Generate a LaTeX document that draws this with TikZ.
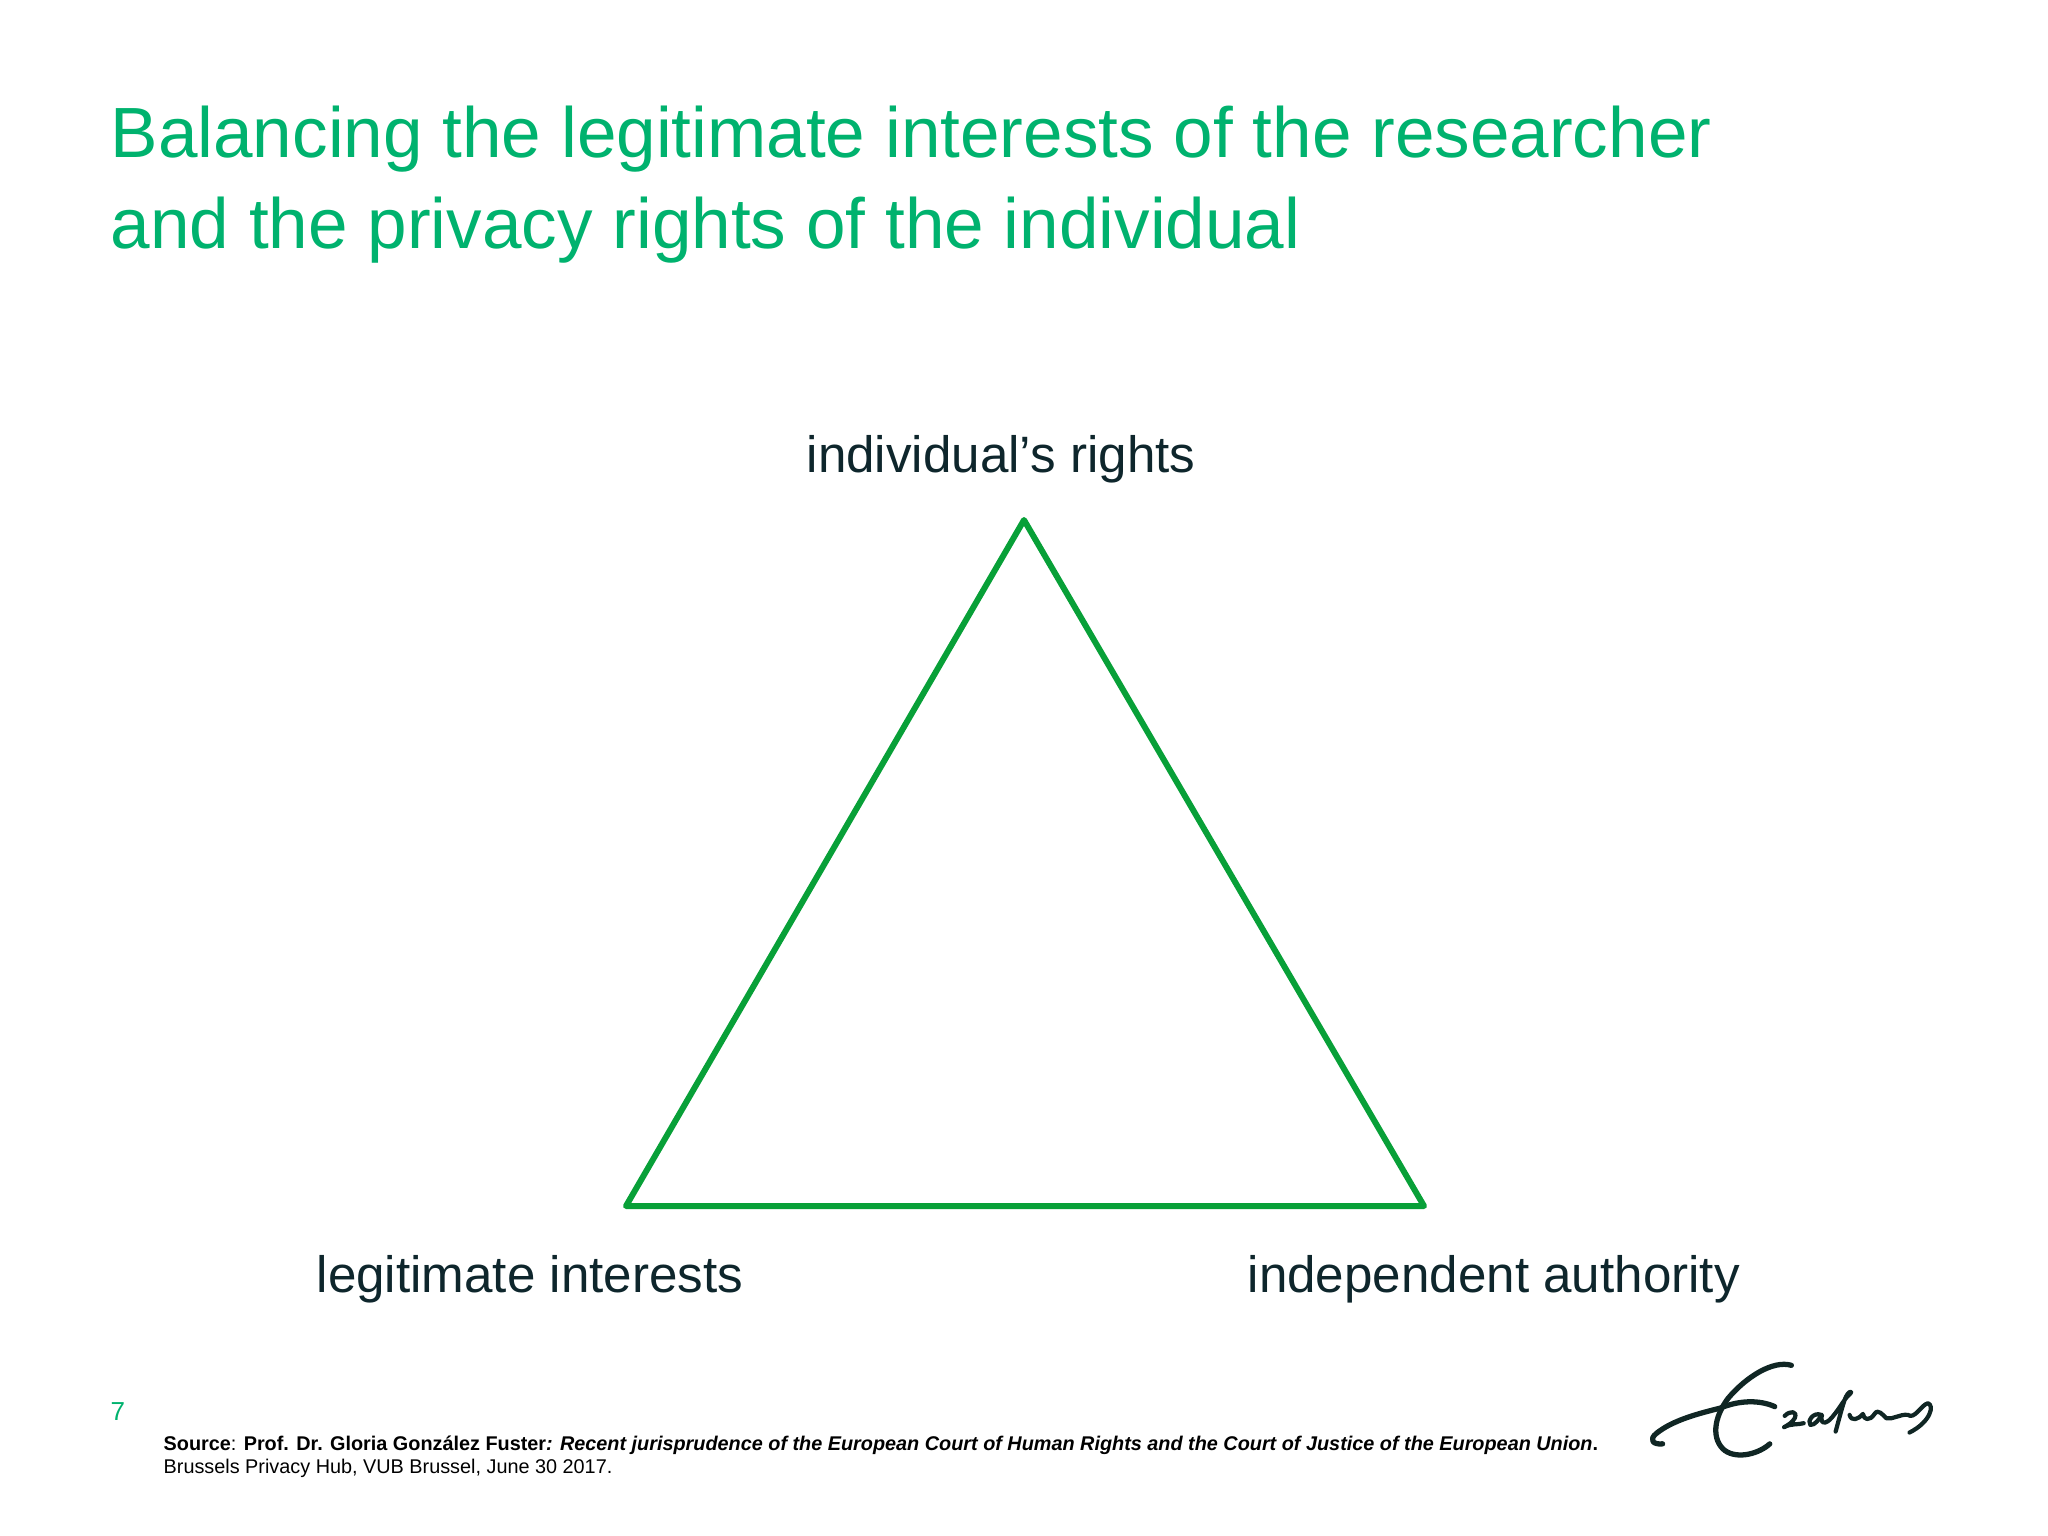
\documentclass[tikz,border=0pt]{standalone}
\usepackage{fontspec}
\setmainfont{Liberation Sans}
\usepackage{tikz}
\usetikzlibrary{calc}
\definecolor{titlegreen}{RGB}{0,178,110}
\definecolor{linegreen}{RGB}{8,160,56}
\definecolor{labelink}{RGB}{14,38,44}
\definecolor{logoink}{RGB}{16,38,36}

\begin{document}
\begin{tikzpicture}[x=0.01cm,y=-0.01cm,
    titletext/.style={anchor=north west,inner sep=0pt,align=left,text=titlegreen,font=\fontsize{20.22}{25.9}\selectfont},
    cornerlabel/.style={anchor=base west,inner sep=0pt,text=labelink,font=\fontsize{14.55}{17}\selectfont},
    sourcetext/.style={anchor=base west,inner sep=0pt,text=black,font=\fontsize{5.64}{6.5}\selectfont},
    sideline/.style={draw=linegreen,line width=1.7pt,line join=round,line cap=round},
    logostroke/.style={draw=logoink,line width=1.5pt,line cap=round,line join=round}]
      \useasboundingbox (0,0) rectangle (2048,1536);

      \node[titletext] (title) at (110,105) {Balancing the legitimate interests of the researcher\\and the privacy rights of the individual};

      \coordinate (apex) at (1024,520);
      \coordinate (left) at (626,1206);
      \coordinate (right) at (1424,1206);
      \path[sideline] (apex) -- (right) -- (left) -- cycle;

      \node[cornerlabel] (rights) at (806,472) {individual’s rights};
      \node[cornerlabel] (interests) at (316,1292) {legitimate interests};
      \node[cornerlabel] (authority) at (1247,1292) {independent authority};

      \node[anchor=base west,inner sep=0pt,text=titlegreen,font=\fontsize{7.4}{9}\selectfont] (pagenum) at (110,1420) {7};
      \node[sourcetext] (source) at (163,1450) {\textbf{Source}: \textbf{Prof. Dr. Gloria González Fuster\textit{: Recent jurisprudence of the European Court of Human Rights and the Court of Justice of the European Union}.}};
      \node[sourcetext] (venue) at (163,1473) {Brussels Privacy Hub, VUB Brussel, June 30 2017.};

      % signature
      \begin{scope}[shift={(1600,1340)},x=0.003333cm,y=-0.003333cm]
        \draw[logostroke] (575,76) .. controls (520,60) and (440,110) .. (385,175)
          .. controls (340,235) and (335,300) .. (375,332)
          .. controls (415,360) and (480,340) .. (510,312);
        \draw[logostroke] (188,312) .. controls (160,315) and (145,300) .. (170,280)
          .. controls (220,240) and (300,220) .. (360,205)
          .. controls (420,180) and (480,180) .. (525,200);
        \draw[logostroke,line width=1.2pt] (555,228) .. controls (570,212) and (595,212) .. (585,235)
          .. controls (578,248) and (565,255) .. (553,262) .. controls (575,250) and (595,255) .. (612,250);
        \draw[logostroke,line width=1.2pt] (665,225) .. controls (640,215) and (622,245) .. (632,255)
          .. controls (645,258) and (660,235) .. (667,225) .. controls (662,245) and (668,258) .. (690,240)
          .. controls (715,215) and (735,175) .. (748,165) .. controls (765,150) and (745,150) .. (735,180)
          .. controls (725,210) and (715,250) .. (708,275);
        \draw[logostroke,line width=1.2pt] (750,225) .. controls (755,245) and (775,240) .. (790,222)
          .. controls (792,240) and (810,245) .. (825,222)
          .. controls (835,205) and (850,225) .. (860,235)
          .. controls (880,240) and (900,222) .. (925,225)
          .. controls (945,240) and (965,195) .. (985,190)
          .. controls (1005,195) and (995,245) .. (930,278);
      \end{scope}
\end{tikzpicture}
\end{document}
